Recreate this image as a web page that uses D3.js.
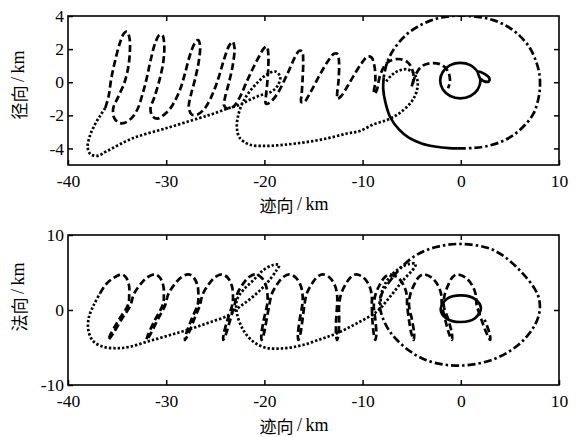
<!DOCTYPE html>
<html><head><meta charset="utf-8">
<script src="https://cdn.jsdelivr.net/npm/d3@7"></script>
<style>body{margin:0;background:#fff}</style>
</head><body>
<svg id="c" width="583" height="437"></svg>
<script>
// ---------- data ----------
const xTicks = [-40, -30, -20, -10, 0, 10];
const radialTicks = [4, 2, 0, -2, -4];
const normalTicks = [10, 0, -10];
const xLabel = "迹向";
const radialLabel = "径向";
const normalLabel = "法向";
const unitLabel = "\u2009/\u2009km";

// top panel (along-track, radial)
const radialDashed = [[-36.2,-1.55],[-35.85,-0.8],[-35.6,0.2],[-35.2,1.3],[-34.7,2.4],[-34.3,2.95],[-34.0,3.05],[-33.75,2.7],[-33.7,1.8],[-33.9,0.8],[-34.3,-0.1],[-34.9,-0.9],[-35.4,-1.6],[-35.3,-2.15],[-34.8,-2.45],[-34.2,-2.45],[-33.5,-2.15],[-32.9,-1.6],
[-32.4,-0.7],[-32.0,0.2],[-31.6,1.3],[-31.1,2.4],[-30.7,2.85],[-30.4,2.85],[-30.2,2.3],[-30.3,1.2],[-30.7,0.1],[-31.2,-0.9],[-31.6,-1.6],[-31.4,-2.05],[-30.9,-2.2],[-30.3,-2.0],[-29.6,-1.6],[-29.0,-1.0],
[-28.5,-0.3],[-28.1,0.5],[-27.6,1.6],[-27.1,2.35],[-26.75,2.55],[-26.55,2.2],[-26.7,1.2],[-27.1,0.1],[-27.5,-0.8],[-27.7,-1.5],[-27.4,-1.95],[-26.8,-1.95],[-26.1,-1.6],[-25.5,-1.0],
[-25.0,-0.3],[-24.6,0.4],[-24.1,1.4],[-23.6,2.2],[-23.25,2.45],[-23.05,2.1],[-23.2,1.1],[-23.6,0.0],[-24.0,-0.9],[-24.1,-1.4],[-23.7,-1.6],[-23.1,-1.45],[-22.5,-0.9],
[-21.9,-0.1],[-21.2,0.8],[-20.5,1.6],[-20.05,2.05],[-19.75,2.15],[-19.6,1.7],[-19.6,1.0],[-19.7,0.0],[-19.85,-0.9],[-19.85,-1.3],[-19.5,-1.25],[-18.75,-0.76],
[-17.7,0.45],[-16.9,1.5],[-16.45,1.9],[-16.15,1.85],[-16.05,1.3],[-16.1,0.3],[-16.2,-0.7],[-16.25,-1.2],[-15.95,-1.2],[-15.3,-0.6],
[-14.4,0.4],[-13.5,1.3],[-12.9,1.72],[-12.55,1.7],[-12.4,1.2],[-12.45,0.1],[-12.6,-0.8],[-12.55,-1.0],[-12.2,-0.85],[-11.6,-0.3],
[-10.9,0.4],[-10.1,1.15],[-9.5,1.55],[-9.1,1.5],[-8.8,1.0],[-8.7,0.1],[-8.85,-0.7],[-8.6,-0.55],
[-8.2,0.45],[-7.55,1.15],[-6.5,1.4],[-5.5,1.25],[-5.0,0.85],[-4.8,0.25],[-5.0,-0.26],[-4.85,0.0],
[-4.6,0.45],[-4.0,0.95],[-3.0,1.15],[-1.95,1.05],[-1.3,0.65],[-1.1,0.05],[-1.3,-0.36]];

const radialDotted = [[-7.6,0.05],[-7.0,0.45],[-6.3,0.7],[-5.5,0.78],[-4.8,0.55],[-4.4,0.05],[-4.5,-0.56],[-5.0,-1.16],[-6.2,-1.85],[-7.4,-2.25],[-8.9,-2.55],[-10.3,-2.95],[-11.6,-3.1],[-13.3,-3.35],[-15.0,-3.55],[-16.8,-3.7],[-18.4,-3.8],[-20.0,-3.85],[-21.5,-3.77],[-22.5,-3.37],[-22.8,-2.77],[-22.65,-1.96],[-22.15,-1.16],[-21.5,-0.56],[-20.6,0.04],[-19.8,0.45],[-18.9,0.65],[-18.4,0.34],[-18.6,-0.16],[-19.25,-0.56],[-20.45,-0.8],[-21.5,-1.06],[-22.5,-1.36],[-23.8,-1.6],[-25.2,-1.9],[-26.6,-2.16],[-29.95,-2.77],[-33.35,-3.37],[-36.0,-4.15],[-37.0,-4.45],[-37.7,-4.35],[-38.0,-3.95],[-37.8,-3.3],[-37.3,-2.6],[-36.7,-2.0],[-36.2,-1.55]];

const radialDashDot = [[-0.3,-4.0],[1.3,-3.97],[2.6,-3.87],[4.1,-3.6],[5.35,-3.2],[6.5,-2.6],[7.4,-1.9],[7.9,-1.0],[8.06,-0.3],[8.0,0.5],[7.7,1.2],[7.0,2.1],[6.0,2.8],[4.8,3.35],[3.3,3.75],[1.7,3.95],[0,4.02],[-1.6,3.95],[-3.1,3.72],[-4.4,3.35],[-5.5,2.9],[-6.5,2.25],[-7.2,1.6],[-7.6,1.0],[-7.85,0.3]];

const radialSolidArc = [[-7.85,0.3],[-7.9,-0.4],[-7.7,-1.16],[-7.2,-2.1],[-6.3,-2.85],[-5.3,-3.35],[-4.0,-3.7],[-2.5,-3.9],[-1.2,-3.98],[-0.3,-4.0]];

const radialSolidSmall = [[1.73,0.63],[0.975,1.03],[-0.05,1.17],[-1.075,1.03],[-1.825,0.635],[-2.1,0.1],[-1.825,-0.435],[-1.075,-0.83],[-0.05,-0.97],[0.975,-0.83],[1.725,-0.435],[2.0,0.1],[1.73,0.63],[2.4,0.5],[2.9,0.25],[2.85,0.05],[2.4,0.05],[2.05,0.2]];

// bottom panel (along-track, normal)
const normalDashed = [[-36.74,2.22],[-36.2,3.33],[-35.4,4.25],[-34.5,4.75],
[-34.07,4.3],[-33.78,3.2],[-33.77,1.9],[-33.85,0.8],[-34.87,-1.4],[-35.69,-3.3],[-35.9,-4.0],[-35.44,-3.2],[-34.57,-1.3],[-33.65,0.6],
[-33.3,2.1],[-32.61,3.45],[-31.87,4.4],[-31.1,4.75],[-30.63,4.3],[-30.29,3.2],[-30.24,1.9],[-30.32,0.8],[-31.17,-1.4],[-31.85,-3.3],[-32.0,-4.0],[-31.6,-3.2],[-30.87,-1.3],[-30.12,0.6],
[-29.79,2.1],[-29.14,3.45],[-28.43,4.4],[-27.7,4.75],[-27.18,4.3],[-26.8,3.2],[-26.72,1.9],[-26.78,0.8],[-27.47,-1.4],[-28.0,-3.3],[-28.1,-4.0],[-27.75,-3.2],[-27.17,-1.3],[-26.58,0.6],
[-26.28,2.1],[-25.66,3.45],[-25.0,4.4],[-24.3,4.75],[-23.73,4.3],[-23.31,3.2],[-23.2,1.9],[-23.25,0.8],[-23.78,-1.4],[-24.16,-3.3],[-24.2,-4.0],[-23.91,-3.2],[-23.48,-1.3],[-23.05,0.6],
[-22.78,2.1],[-22.19,3.45],[-21.56,4.4],[-20.9,4.75],[-20.28,4.3],[-19.83,3.2],[-19.68,1.9],[-19.71,0.8],[-20.08,-1.4],[-20.31,-3.3],[-20.3,-4.0],[-20.06,-3.2],[-19.78,-1.3],[-19.51,0.6],
[-19.26,2.1],[-18.69,3.45],[-18.08,4.4],[-17.45,4.75],[-16.79,4.3],[-16.29,3.2],[-16.11,1.9],[-16.13,0.8],[-16.42,-1.4],[-16.59,-3.3],[-16.55,-4.0],[-16.34,-3.2],[-16.12,-1.3],[-15.93,0.6],
[-15.71,2.1],[-15.19,3.45],[-14.63,4.4],[-14.05,4.75],[-13.34,4.3],[-12.8,3.2],[-12.59,1.9],[-12.59,0.8],[-12.7,-1.4],[-12.7,-3.3],[-12.6,-4.0],[-12.45,-3.2],[-12.39,-1.3],[-12.39,0.6],
[-12.2,2.1],[-11.72,3.45],[-11.19,4.4],[-10.65,4.75],[-9.89,4.3],[-9.31,3.2],[-9.06,1.9],[-9.06,0.8],[-9.0,-1.4],[-8.85,-3.3],[-8.7,-4.0],[-8.6,-3.2],[-8.7,-1.3],[-8.86,0.6],
[-8.68,2.1],[-8.22,3.45],[-7.72,4.4],[-7.2,4.75],[-6.39,4.3],[-5.78,3.2],[-5.49,1.9],[-5.47,0.8],[-5.27,-1.4],[-5.0,-3.3],[-4.8,-4.0],[-4.75,-3.2],[-4.97,-1.3],[-5.27,0.6],
[-5.14,2.1],[-4.72,3.45],[-4.27,4.4],[-3.8,4.75],[-2.95,4.3],[-2.29,3.2],[-1.97,1.9],[-1.94,0.8],[-1.57,-1.4],[-1.16,-3.3],[-0.9,-4.0],[-0.9,-3.2],[-1.27,-1.3],[-1.74,0.6],
[-1.63,2.1],[-1.24,3.45],[-0.83,4.4],[-0.4,4.75],[0.5,4.3],[1.2,3.2],[1.55,1.9],[1.6,0.8],[2.13,-1.4],[2.69,-3.3],[3.0,-4.0],[2.94,-3.2],[2.43,-1.3]];

const normalDotted = [[-8.2,0.6],[-8.0,2.6],[-7.3,4.3],[-6.2,5.6],[-5.2,6.15],[-4.6,6.15],[-4.7,5.7],[-5.85,4.0],[-7.2,1.78],[-8.56,-0.22],[-10.6,-1.78],[-12.6,-3.1],[-14.3,-3.9],[-16.2,-4.7],[-18.0,-5.1],[-19.8,-5.05],[-21.1,-4.25],[-22.15,-2.67],[-22.8,-0.44],[-22.8,1.33],[-22.15,2.67],[-21.1,4.0],[-20.1,5.33],[-19.1,6.0],[-18.5,6.0],[-18.75,5.33],[-19.8,3.5],[-21.1,1.85],[-22.5,0.44],[-23.8,-0.8],[-25.5,-1.6],[-27.0,-2.3],[-28.6,-2.95],[-30.3,-3.6],[-32.0,-4.25],[-33.7,-4.9],[-35.0,-5.1],[-36.4,-4.9],[-37.4,-4.2],[-37.9,-2.9],[-37.9,-1.1],[-37.4,0.6],[-36.74,2.22]];

const normalDashDot = [[-8.25,1.33],[-6.9,4.4],[-4.8,7.1],[-2.5,8.4],[0.1,8.8],[3.3,8.0],[6.0,5.3],[7.9,1.8],[7.9,-0.9],[6.4,-4.0],[3.65,-6.4],[0.1,-7.4],[-3.5,-6.7],[-6.2,-4.4],[-7.7,-1.8]];

const normalSolid = [[2.05,0.25],[1.45,1.45],[0.05,1.95],[-1.4,1.5],[-2.05,0.1],[-1.45,-1.15],[0.0,-1.6],[1.45,-1.1]];

// ---------- drawing ----------
const svg = d3.select('#c');
svg.append('rect').attr('width',583).attr('height',437).attr('fill','#fff');

const x = d3.scaleLinear().domain([-40,10]).range([68,559]);
const panels = [
  {y: d3.scaleLinear().domain([-5,4]).range([165,16]), ticks: radialTicks, label: radialLabel,
   labelY: 85, xLabelY: 204,
   series: [
     {d: radialDotted, dash: '2.4,2'},
     {d: radialDashDot, dash: '8,3,2.5,3'},
     {d: radialDashed, dash: '7,3.5'},
     {d: radialSolidArc, dash: null},
     {d: radialSolidSmall, dash: null}
   ]},
  {y: d3.scaleLinear().domain([-10,10]).range([385,235]), ticks: normalTicks, label: normalLabel,
   labelY: 297, xLabelY: 425,
   series: [
     {d: normalDotted, dash: '2.4,2'},
     {d: normalDashDot, dash: '8,3,2.5,3', closed: true},
     {d: normalDashed, dash: '7,3.5'},
     {d: normalSolid, dash: null, closed: true}
   ]}
];

const serif = "Liberation Serif";
const cjk = "Noto Sans CJK SC";

panels.forEach(p => {
  const [y0, y1] = p.y.range();
  const g = svg.append('g');
  const clipId = 'clip' + y0;
  g.append('clipPath').attr('id', clipId).append('rect')
    .attr('x', 68).attr('y', y1).attr('width', 491).attr('height', y0 - y1);
  const plot = g.append('g').attr('clip-path', `url(#${clipId})`);
  p.series.forEach(s => {
    const line = d3.line().x(d => x(d[0])).y(d => p.y(d[1]))
      .curve(s.closed ? d3.curveCatmullRomClosed.alpha(0.5) : d3.curveCatmullRom.alpha(0.5));
    plot.append('path').attr('d', line(s.d)).attr('fill','none')
      .attr('stroke','#000').attr('stroke-width',2.7)
      .attr('stroke-linejoin','round')
      .attr('stroke-dasharray', s.dash);
  });
  // axes
  const axB = d3.axisBottom(x).tickValues(xTicks).tickSizeInner(-5).tickSizeOuter(0).tickPadding(10).tickFormat(d3.format('d'));
  const axT = d3.axisTop(x).tickValues(xTicks.slice(1,-1)).tickSizeInner(-5).tickSizeOuter(0).tickFormat('');
  const axL = d3.axisLeft(p.y).tickValues(p.ticks).tickSizeInner(-5).tickSizeOuter(0).tickPadding(4).tickFormat(d3.format('d'));
  const axR = d3.axisRight(p.y).tickValues(p.ticks.filter(t => t !== p.y.domain()[1] && t !== p.y.domain()[0])).tickSizeInner(-5).tickSizeOuter(0).tickFormat('');
  [[axB, `translate(0,${y0})`], [axT, `translate(0,${y1})`], [axL, `translate(68,0)`], [axR, `translate(559,0)`]].forEach(([ax, tr]) => {
    const a = g.append('g').attr('transform', tr).call(ax)
      .attr('font-family', serif).attr('font-size', 17.5);
    a.select('.domain').remove();
    a.selectAll('line').attr('stroke','#000').attr('stroke-width',1.5);
    a.selectAll('text').attr('fill','#000')
      .attr('font-family', serif).style('font-family', serif).style('font-size','17.5px')
      .text(function(){ return this.textContent.replace('\u2212','-'); });
  });
  g.append('rect').attr('x',68).attr('y',y1).attr('width',491).attr('height',y0-y1)
    .attr('fill','none').attr('stroke','#000').attr('stroke-width',1.6);
  // x label
  const xt = g.append('text').attr('x', 294).attr('y', p.xLabelY).attr('text-anchor','middle')
    .attr('dominant-baseline','central').attr('fill','#000');
  xt.append('tspan').style('font-family', cjk).style('font-size','17px').text(xLabel);
  xt.append('tspan').style('font-family', serif).style('font-size','18px').text(unitLabel);
  // y label
  const yt = g.append('text').attr('transform', `translate(18,${p.labelY}) rotate(-90)`)
    .attr('text-anchor','middle').attr('dominant-baseline','central').attr('fill','#000');
  yt.append('tspan').style('font-family', cjk).style('font-size','17px').text(p.label);
  yt.append('tspan').style('font-family', serif).style('font-size','18px').text(unitLabel);
});
</script>
</body></html>
